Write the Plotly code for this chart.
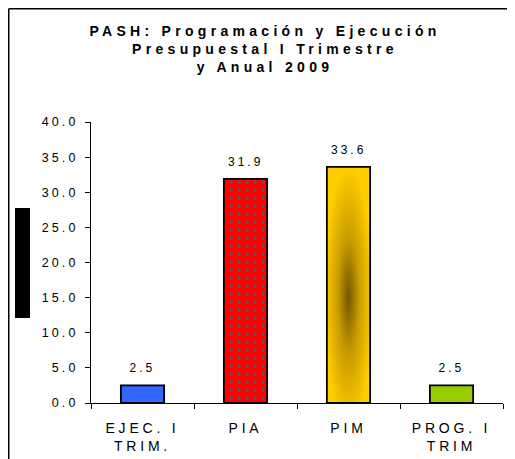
import plotly.graph_objects as go

categorias = ["EJEC. I<br>TRIM.", "PIA", "PIM", "PROG. I<br>TRIM"]
montos = [2.5, 31.9, 33.6, 2.5]
etiquetas = ["2.5", "31.9", "33.6", "2.5"]
colores = ["#3366FF", "#FF0000", "#FFCC00", "#99CC00"]
patrones = ["", ".", "", ""]

titulo = ("<b>PASH: Programación y Ejecución<br>Presupuestal I Trimestre"
          "<br>y Anual 2009</b>")

# la página tiene un margen de 8px, la figura empieza en (8, 8)
OFF = 8
W, H = 515 - OFF, 459 - OFF
L, R, T, B = 91 - OFF, 12, 122 - OFF, 56
pw, ph = W - L - R, H - T - B


def px2paper(x, y):
    # coordenadas en píxeles de la figura -> coordenadas paper
    return (x - L) / pw, (H - B - y) / ph


fig = go.Figure()
fig.add_trace(go.Bar(
    x=categorias, y=montos,
    width=0.42,
    marker=dict(
        color=colores,
        line=dict(color="black", width=1.8),
        pattern=dict(shape=patrones, fillmode="overlay",
                     fgcolor=["#555555"] * len(montos), fgopacity=1,
                     size=8, solidity=0.15),
    ),
    hoverinfo="skip",
))

for c, v, t in zip(categorias, montos, etiquetas):
    fig.add_annotation(x=c, y=v, text=t, showarrow=False, yanchor="bottom",
                       yshift=8, font=dict(size=12, color="black"))

# marco (borde superior e izquierdo)
x0, y0 = px2paper(0.75, 0.75)
x1, _ = px2paper(W + 5, 0.75)
_, yb = px2paper(0.75, H + 5)
fig.add_shape(type="line", xref="paper", yref="paper", x0=x0, y0=y0, x1=x1, y1=y0,
              line=dict(color="black", width=1.5))
fig.add_shape(type="line", xref="paper", yref="paper", x0=x0, y0=y0, x1=x0, y1=yb,
              line=dict(color="black", width=1.5))

# rectángulo negro a la izquierda
rx0, ry0 = px2paper(15 - OFF, 318 - OFF)
rx1, ry1 = px2paper(30 - OFF, 208 - OFF)
fig.add_shape(type="rect", xref="paper", yref="paper", x0=rx0, y0=ry0, x1=rx1, y1=ry1,
              fillcolor="black", line=dict(width=0))

fig.update_layout(
    width=W, height=H,
    margin=dict(l=L, r=R, t=T, b=B),
    paper_bgcolor="white", plot_bgcolor="white",
    font=dict(family="Liberation Sans, Arial", color="black"),
    title=dict(text=titulo, x=(265 - OFF) / W, xanchor="center",
               y=1 - 28 / H, yanchor="top",
               font=dict(size=14, color="black")),
    showlegend=False,
)
fig.update_xaxes(
    showline=True, linecolor="black", linewidth=1,
    ticks="outside", ticklen=5, tickcolor="black", tickson="boundaries",
    ticklabelstandoff=12, automargin=False,
    tickfont=dict(size=14), showgrid=False,
)
fig.update_yaxes(
    range=[0, 40], dtick=5, tickformat=".1f",
    showline=True, linecolor="black", linewidth=1,
    ticks="outside", ticklen=5, tickcolor="black", ticklabelstandoff=4,
    automargin=False,
    tickfont=dict(size=12.5), showgrid=False, zeroline=False,
)

post = """
var gd = document.getElementById('{plot_id}');
function sp(sel, v) {
  gd.querySelectorAll(sel).forEach(function (e) { e.style.letterSpacing = v; });
}
sp('.gtitle', '4.3px');
sp('.xtick text', '3.8px');
sp('.ytick text', '3.1px');
sp('.annotation-text', '3px');
// puntos grises del relleno de PIA
document.querySelectorAll('pattern circle').forEach(function (c) {
  c.setAttribute('fill', '#555555'); c.style.fill = '#555555';
  c.style.fillOpacity = '1';
});
var ns = 'http://www.w3.org/2000/svg';
var svg = gd.querySelector('.main-svg');
var defs = svg.querySelector('defs');
if (!defs) { defs = document.createElementNS(ns, 'defs'); svg.insertBefore(defs, svg.firstChild); }
var g = document.createElementNS(ns, 'radialGradient');
g.setAttribute('id', 'oroPIM');
g.setAttribute('cx', '0.5'); g.setAttribute('cy', '0.55'); g.setAttribute('r', '0.55');
[['0', '#735600'], ['0.45', '#C99C00'], ['1', '#FFCC00']].forEach(function (s) {
  var st = document.createElementNS(ns, 'stop');
  st.setAttribute('offset', s[0]); st.setAttribute('stop-color', s[1]);
  g.appendChild(st);
});
defs.appendChild(g);
var barras = gd.querySelectorAll('.bars .point path');
if (barras.length > 2) { barras[2].style.fill = 'url(#oroPIM)'; }
"""

fig.write_html("out.html", post_script=post)
